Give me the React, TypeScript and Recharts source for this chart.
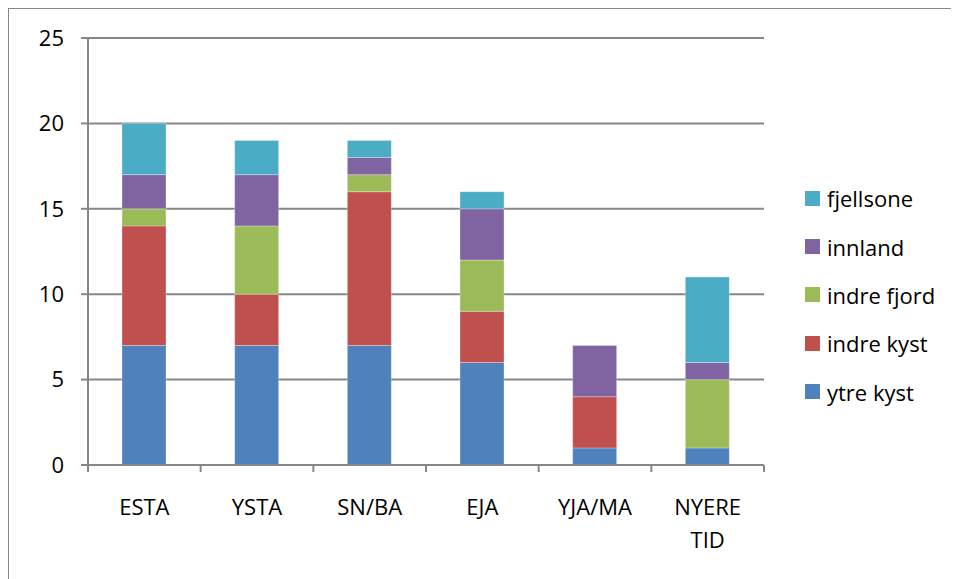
import React from 'react';
import { Bar, BarChart, CartesianGrid, Legend, XAxis, YAxis } from 'recharts';

// periods along the x axis
const periods = ['ESTA', 'YSTA', 'SN/BA', 'EJA', 'YJA/MA', 'NYERE TID'];

// counts per zone, one value per period
const ytreKyst = [7, 7, 7, 6, 1, 1];
const indreKyst = [7, 3, 9, 3, 3, 0];
const indreFjord = [1, 4, 1, 3, 0, 4];
const innland = [2, 3, 1, 3, 3, 1];
const fjellsone = [3, 2, 1, 1, 0, 5];

const yTicks = [0, 5, 10, 15, 20, 25];

const series = [
  { key: 'ytreKyst', name: 'ytre kyst', color: '#4F81BD', values: ytreKyst },
  { key: 'indreKyst', name: 'indre kyst', color: '#C0504D', values: indreKyst },
  { key: 'indreFjord', name: 'indre fjord', color: '#9BBB59', values: indreFjord },
  { key: 'innland', name: 'innland', color: '#8064A2', values: innland },
  { key: 'fjellsone', name: 'fjellsone', color: '#4BACC6', values: fjellsone },
];

const data = periods.map((period, i) => {
  const row: Record<string, string | number> = { period };
  series.forEach((s) => {
    row[s.key] = s.values[i];
  });
  return row;
});

const AXIS = '#878787';
const FONT = '"Open Sans", "Noto Sans", sans-serif';

function PeriodTick(props: any) {
  const { x, y, payload, index, visibleTicksCount, width } = props;
  const half = payload.offset || width / visibleTicksCount / 2;
  const lines = String(payload.value).split(' ');
  const last = index === visibleTicksCount - 1;
  return (
    <g>
      <line x1={x - half} y1={y} x2={x - half} y2={y + 7} stroke={AXIS} strokeWidth={2} />
      {last && <line x1={x + half} y1={y} x2={x + half} y2={y + 7} stroke={AXIS} strokeWidth={2} />}
      <text x={x} y={y + 50} textAnchor="middle" fill="#000" fontSize={22} fontFamily={FONT}>
        {lines.map((line, i) => (
          <tspan key={line} x={x} dy={i === 0 ? 0 : 33}>
            {line}
          </tspan>
        ))}
      </text>
    </g>
  );
}

function ZoneLegend() {
  return (
    <div style={{ fontFamily: FONT, fontSize: 22, color: '#000' }}>
      {[...series].reverse().map((s) => (
        <div key={s.key} style={{ display: 'flex', alignItems: 'center', height: 48.4 }}>
          <span style={{ width: 15, height: 15, background: s.color, marginRight: 7, display: 'inline-block' }} />
          <span style={{ lineHeight: '24px' }}>{s.name}</span>
        </div>
      ))}
    </div>
  );
}

export default function App() {
  return (
    <div
      style={{
        margin: '-1px 0 0 -1px',
        width: 949,
        height: 570,
        borderTop: `2px solid ${AXIS}`,
        borderLeft: `2px solid ${AXIS}`,
        fontFamily: FONT,
        background: '#fff',
      }}
    >
      <BarChart width={949} height={570} data={data} margin={{ top: 29, right: 194, bottom: 0, left: 0 }} barSize={44}>
        <CartesianGrid vertical={false} stroke={AXIS} strokeWidth={2} />
        <XAxis
          dataKey="period"
          height={114}
          interval={0}
          axisLine={{ stroke: AXIS, strokeWidth: 2 }}
          tickLine={false}
          tickSize={0}
          tickMargin={0}
          tick={<PeriodTick />}
        />
        <YAxis
          width={79}
          domain={[0, 25]}
          ticks={yTicks}
          interval={0}
          axisLine={{ stroke: AXIS, strokeWidth: 2 }}
          tickLine={{ stroke: AXIS, strokeWidth: 2 }}
          tickSize={7}
          tickMargin={17}
          tick={{ fill: '#000', fontSize: 22, fontFamily: FONT }}
        />
        <Legend
          layout="vertical"
          align="center"
          verticalAlign="middle"
          content={() => <ZoneLegend />}
          wrapperStyle={{ left: 796, top: 165, width: 150 }}
        />
        {series.map((s) => (
          <Bar
            key={s.key}
            dataKey={s.key}
            name={s.name}
            stackId="zone"
            fill={s.color}
            stroke="#ffffff"
            strokeOpacity={0.3}
            strokeWidth={1}
            isAnimationActive={false}
          />
        ))}
      </BarChart>
    </div>
  );
}
